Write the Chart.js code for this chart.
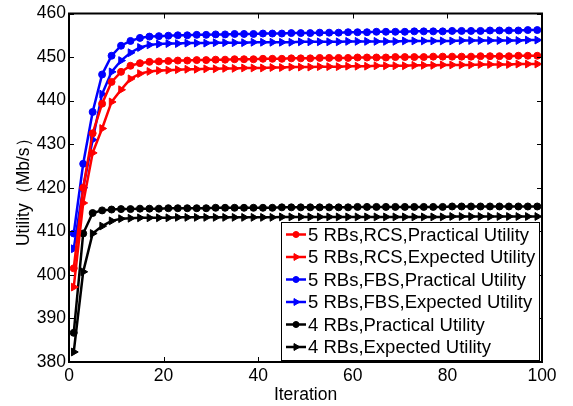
<!DOCTYPE html>
<html><head><meta charset="utf-8">
<script src="https://cdn.jsdelivr.net/npm/chart.js@4"></script>
<style>html,body{margin:0;padding:0;background:#fff}#wrap{width:573px;height:406px;position:relative}</style>
</head><body><div id="wrap"><canvas id="c" width="573" height="406"></canvas></div>
<script>
const iterations = [1,3,5,7,9,11,13,15,17,19,21,23,25,27,29,31,33,35,37,39,41,43,45,47,49,51,53,55,57,59,61,63,65,67,69,71,73,75,77,79,81,83,85,87,89,91,93,95,97,99];
const xTicks = [0,20,40,60,80,100];
const yTicks = [380,390,400,410,420,430,440,450,460];

const rcsPractical = [401.5,420.0,432.5,439.3,444.3,446.6,448.0,448.6,448.9,449.0,
449.1,449.2,449.2,449.3,449.3,449.4,449.4,449.5,449.5,449.5,
449.6,449.6,449.6,449.7,449.7,449.7,449.8,449.8,449.8,449.8,
449.9,449.9,449.9,449.9,450.0,450.0,450.0,450.0,450.1,450.1,
450.1,450.1,450.1,450.2,450.2,450.2,450.2,450.3,450.3,450.3];
const rcsExpected = [397.2,416.5,428.0,433.6,439.7,442.5,445.0,446.2,446.7,446.9,
447.0,447.1,447.2,447.2,447.3,447.3,447.4,447.4,447.5,447.5,
447.5,447.6,447.6,447.7,447.7,447.7,447.8,447.8,447.8,447.9,
447.9,447.9,448.0,448.0,448.0,448.0,448.1,448.1,448.1,448.2,
448.2,448.2,448.2,448.3,448.3,448.3,448.3,448.4,448.4,448.4];
const fbsPractical = [409.5,425.5,437.4,446.0,450.3,452.6,453.7,454.4,454.7,454.8,
454.9,455.0,455.0,455.1,455.1,455.2,455.2,455.3,455.3,455.3,
455.4,455.4,455.4,455.5,455.5,455.5,455.6,455.6,455.6,455.7,
455.7,455.7,455.8,455.8,455.8,455.8,455.9,455.9,455.9,455.9,
456.0,456.0,456.0,456.0,456.1,456.1,456.1,456.1,456.2,456.2];
const fbsExpected = [406.0,420.0,431.0,441.5,446.6,449.2,451.0,452.2,452.8,453.0,
453.1,453.1,453.2,453.2,453.2,453.3,453.3,453.3,453.3,453.4,
453.4,453.4,453.4,453.4,453.5,453.5,453.5,453.5,453.5,453.6,
453.6,453.6,453.6,453.6,453.6,453.7,453.7,453.7,453.7,453.7,
453.7,453.8,453.8,453.8,453.8,453.8,453.8,453.8,453.9,453.9];
const rb4Practical = [386.7,409.5,414.2,414.8,415.0,415.1,415.1,415.2,415.2,415.2,
415.3,415.3,415.3,415.3,415.3,415.4,415.4,415.4,415.4,415.4,
415.4,415.4,415.5,415.5,415.5,415.5,415.5,415.5,415.5,415.5,
415.6,415.6,415.6,415.6,415.6,415.6,415.6,415.6,415.6,415.6,
415.7,415.7,415.7,415.7,415.7,415.7,415.7,415.7,415.7,415.7];
const rb4Expected = [382.3,400.7,409.5,411.2,412.4,412.9,413.0,413.1,413.1,413.1,
413.1,413.2,413.2,413.2,413.2,413.2,413.2,413.2,413.2,413.2,
413.2,413.2,413.3,413.3,413.3,413.3,413.3,413.3,413.3,413.3,
413.3,413.3,413.3,413.3,413.3,413.3,413.3,413.3,413.3,413.3,
413.4,413.4,413.4,413.4,413.4,413.4,413.4,413.4,413.4,413.4];

const seriesNames = ['5 RBs,RCS,Practical Utility','5 RBs,RCS,Expected Utility','5 RBs,FBS,Practical Utility','5 RBs,FBS,Expected Utility','4 RBs,Practical Utility','4 RBs,Expected Utility'];
const seriesValues = [rcsPractical, rcsExpected, fbsPractical, fbsExpected, rb4Practical, rb4Expected];
const seriesColors = ['#ff0000','#ff0000','#0000ff','#0000ff','#000000','#000000'];
const seriesMarkers = ['circle','triangle','circle','triangle','circle','triangle'];

const FONT = '"Liberation Sans", Arial, sans-serif';

const datasets = seriesNames.map((name, k) => ({
  label: name,
  data: iterations.map((x, i) => ({x: x, y: seriesValues[k][i]})),
  borderColor: seriesColors[k],
  backgroundColor: seriesColors[k],
  borderWidth: 2.5,
  pointStyle: seriesMarkers[k],
  pointRotation: seriesMarkers[k] === 'triangle' ? 90 : 0,
  pointRadius: seriesMarkers[k] === 'triangle' ? 4.5 : 3.5,
  pointBorderWidth: 1,
  tension: 0
}));

const framePlugin = {
  id: 'frame',
  afterDraw(chart) {
    const ctx = chart.ctx, a = chart.chartArea;
    const xs = chart.scales.x, ys = chart.scales.y;
    ctx.save();
    ctx.strokeStyle = '#000';
    ctx.lineWidth = 1;
    const tl = 5;
    ctx.beginPath();
    xTicks.forEach(v => {
      const px = Math.round(xs.getPixelForValue(v)) + 0.5;
      ctx.moveTo(px, a.bottom); ctx.lineTo(px, a.bottom - tl);
      ctx.moveTo(px, a.top); ctx.lineTo(px, a.top + tl);
    });
    yTicks.forEach(v => {
      const py = Math.round(ys.getPixelForValue(v)) + 0.5;
      ctx.moveTo(a.left, py); ctx.lineTo(a.left + tl, py);
      ctx.moveTo(a.right, py); ctx.lineTo(a.right - tl, py);
    });
    ctx.stroke();
    ctx.lineWidth = 2;
    ctx.strokeRect(a.left, a.top, a.right - a.left, a.bottom - a.top);

    // legend
    const lx = 281, ly = 222, lw = 258, lh = 138;
    ctx.fillStyle = '#fff';
    ctx.fillRect(lx, ly, lw, lh);
    ctx.strokeStyle = '#000';
    ctx.lineWidth = 1;
    ctx.strokeRect(lx + 0.5, ly + 0.5, lw, lh);
    ctx.font = '18.5px ' + FONT;
    ctx.textBaseline = 'middle';
    ctx.textAlign = 'left';
    chart.data.datasets.forEach((ds, i) => {
      const y = ly + 12.5 + i * 22.5;
      ctx.strokeStyle = ds.borderColor;
      ctx.fillStyle = ds.borderColor;
      ctx.lineWidth = 2.5;
      ctx.beginPath(); ctx.moveTo(lx + 5, y); ctx.lineTo(lx + 25, y); ctx.stroke();
      ctx.lineWidth = 1;
      Chart.helpers.drawPoint(ctx, {pointStyle: ds.pointStyle, rotation: ds.pointRotation, radius: ds.pointStyle === 'triangle' ? 4 : 3, borderWidth: 1}, lx + 15, y);
      ctx.fillStyle = '#000';
      ctx.fillText(ds.label, lx + 27, y + 1);
    });
    ctx.restore();
  }
};

new Chart(document.getElementById('c'), {
  type: 'line',
  data: { datasets: datasets },
  options: {
    responsive: false,
    animation: false,
    devicePixelRatio: 1,
    layout: { padding: { left: 0, top: 11, right: 31, bottom: 0 } },
    plugins: { legend: { display: false }, tooltip: { enabled: false } },
    scales: {
      x: {
        type: 'linear', min: 0, max: 100,
        afterFit(s) { s.height = 44; },
        afterBuildTicks(s) { s.ticks = xTicks.map(v => ({value: v})); },
        grid: { display: false, drawTicks: false },
        border: { display: false },
        ticks: { color: '#000', font: { family: FONT, size: 17.5 }, padding: 4, maxRotation: 0 },
        title: { display: true, text: 'Iteration', color: '#000', font: { family: FONT, size: 17.5 }, padding: { top: 0, bottom: 0 } }
      },
      y: {
        type: 'linear', min: 380, max: 460,
        afterFit(s) { s.width = 69; },
        afterBuildTicks(s) { s.ticks = yTicks.map(v => ({value: v})); },
        grid: { display: false, drawTicks: false },
        border: { display: false },
        ticks: { color: '#000', font: { family: FONT, size: 17.5 }, padding: 3 },
        title: { display: true, text: 'Utility（Mb/s）', color: '#000', font: { family: FONT, size: 17.5 }, padding: { top: 14, bottom: 0 } }
      }
    }
  },
  plugins: [framePlugin]
});
</script>
</body></html>
